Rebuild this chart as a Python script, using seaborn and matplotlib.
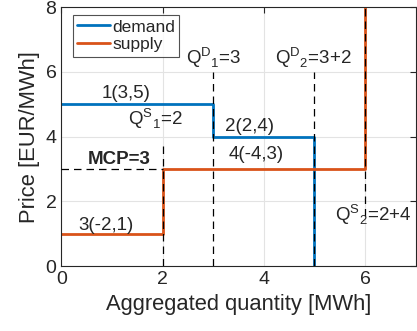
import numpy as np
import pandas as pd
import seaborn as sns
import matplotlib.pyplot as plt

# bids: quantity blocks [MWh] and prices [EUR/MWh]
demand_qty = [3, 2]
demand_price = [5, 4]
supply_qty = [2, 4]
supply_price = [1, 3]
price_top = 8
mcp = 3

blue = "#0072BD"
orange = "#D95319"

sns.set_style("white")
plt.rcParams["font.family"] = ["Liberation Sans", "DejaVu Sans"]
plt.rcParams["mathtext.fontset"] = "custom"
plt.rcParams["mathtext.rm"] = "Liberation Sans"


def step_path(qty, price, end_price):
    q = np.concatenate([[0], np.cumsum(qty), [np.sum(qty)]])
    p = list(price) + [end_price, end_price]
    return q, p


dq, dp = step_path(demand_qty, demand_price, 0)
sq, sp = step_path(supply_qty, supply_price, price_top)
df = pd.concat([
    pd.DataFrame({"q": dq, "p": dp, "curve": "demand"}),
    pd.DataFrame({"q": sq, "p": sp, "curve": "supply"}),
])

fig = plt.figure(figsize=(4.17, 3.31), dpi=100)
ax = fig.add_axes([0.147, 0.196, 0.85, 0.782])

ax.grid(True, color="#e3e3e3", linewidth=0.8)
ax.set_axisbelow(True)

sns.lineplot(data=df, x="q", y="p", hue="curve", palette=[blue, orange],
             estimator=None, sort=False, drawstyle="steps-post",
             linewidth=2, ax=ax, zorder=2)

# dashed guide lines
dq_cum = np.cumsum(demand_qty)
sq_cum = np.cumsum(supply_qty)
dash = dict(colors="k", linestyles=(0, (6, 4)), linewidth=0.9, zorder=3)
ax.vlines(sq_cum[0], 0, 3.7, **dash)
ax.vlines(dq_cum, 0, 6.0, **dash)
ax.vlines(sq_cum[1], 1.55, price_top, **dash)
ax.hlines(mcp, 0, sq_cum[0], **dash)

fs = 13.5
ax.text(1.27, 5.08, "1(3,5)", ha="center", va="bottom", fontsize=fs)
ax.text(1.85, 4.57, r"Q$^{\mathrm{S}}$$_{1}$=2", ha="center", va="center", fontsize=fs)
ax.text(1.14, 3.3, "MCP=3", ha="center", va="center", fontsize=fs, fontweight="bold")
ax.text(0.89, 1.27, "3(-2,1)", ha="center", va="center", fontsize=fs)
ax.text(3.0, 6.44, r"Q$^{\mathrm{D}}$$_{1}$=3", ha="center", va="center", fontsize=fs)
ax.text(4.98, 6.44, r"Q$^{\mathrm{D}}$$_{2}$=3+2", ha="center", va="center", fontsize=fs)
ax.text(3.72, 4.05, "2(2,4)", ha="center", va="bottom", fontsize=fs)
ax.text(3.85, 3.45, "4(-4,3)", ha="center", va="center", fontsize=fs)
ax.text(6.15, 1.58, r"Q$^{\mathrm{S}}$$_{2}$=2+4", ha="center", va="center", fontsize=fs)

ax.set_xlim(0, 7)
ax.set_ylim(0, 8)
ax.set_xticks([0, 2, 4, 6])
ax.set_yticks([0, 2, 4, 6, 8])
ax.tick_params(direction="in", labelsize=14, length=4, top=True, right=True,
               colors="#262626", labelcolor="#262626")
ax.set_xlabel("Aggregated quantity [MWh]", fontsize=15.8, color="#262626")
ax.set_ylabel("Price [EUR/MWh]", fontsize=15.8, color="#262626")
for s in ax.spines.values():
    s.set_color("#262626")
    s.set_linewidth(0.8)

leg = ax.legend(loc="upper left", bbox_to_anchor=(0.033, 0.97), fontsize=12.5,
                frameon=True, fancybox=False, edgecolor="#262626",
                handlelength=1.9, handletextpad=0.1, borderpad=0.25,
                labelspacing=0.15, borderaxespad=0)
leg.get_frame().set_linewidth(0.8)

fig.savefig("out.png", dpi=100)
